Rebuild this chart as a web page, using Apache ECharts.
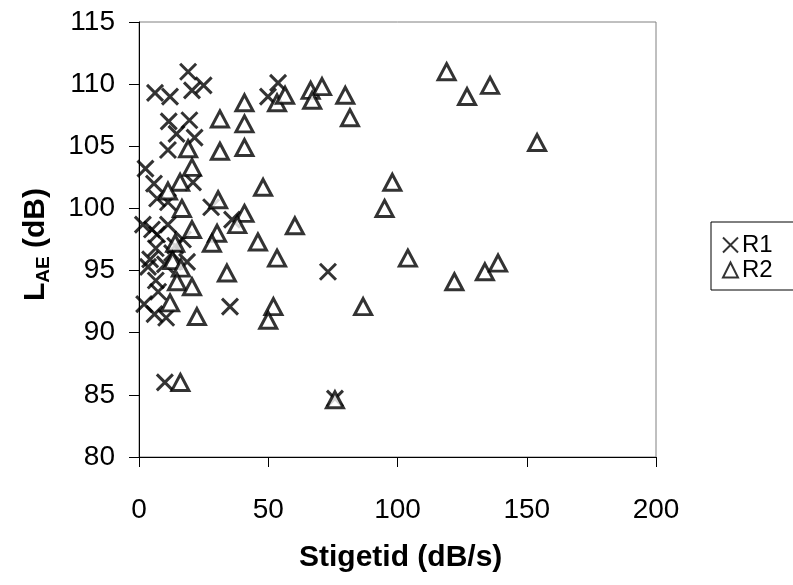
<!DOCTYPE html>
<html>
<head>
<meta charset="utf-8">
<script src="https://cdn.jsdelivr.net/npm/echarts@6/dist/echarts.min.js"></script>
<style>
  html, body { margin: 0; padding: 0; background: #fff; }
  #chart { width: 793px; height: 585px; }
</style>
</head>
<body>
<div id="chart"></div>
<script>
// Rise rate (dB/s) vs. sound exposure level L_AE (dB), two measurement sets
const xTicks = [0, 50, 100, 150, 200];
const yTicks = [80, 85, 90, 95, 100, 105, 110, 115];

const r1 = [
  [19.0, 111.0], [6.2, 109.3], [12.0, 109.0], [20.5, 109.5], [25.0, 109.9],
  [11.5, 107.0], [19.5, 107.1], [14.5, 106.0], [21.5, 105.7], [11.2, 104.7],
  [2.5, 103.2], [20.9, 102.1], [5.8, 102.0], [7.0, 100.8], [11.2, 100.5],
  [27.9, 100.1], [1.5, 98.7], [5.0, 98.3], [11.2, 98.7], [7.0, 97.9],
  [6.5, 96.8], [12.8, 96.4], [4.3, 95.9], [18.6, 95.7], [10.0, 95.5],
  [3.5, 95.3], [6.5, 94.2], [7.4, 93.3], [2.0, 92.3], [6.0, 91.5],
  [10.5, 91.2], [10.0, 86.0], [35.2, 92.1], [73.1, 94.9], [75.8, 84.7],
  [53.8, 110.1], [49.9, 109.0], [36.0, 99.1], [14.0, 97.0], [17.0, 97.5]
];

const r2 = [
  [40.8, 108.5], [31.3, 107.2], [40.8, 106.8], [31.3, 104.6], [40.8, 104.9],
  [19.0, 104.8], [20.5, 103.3], [15.9, 102.1], [11.2, 101.4], [48.0, 101.7],
  [30.6, 100.7], [16.6, 100.0], [40.8, 99.6], [38.0, 98.7], [60.3, 98.6],
  [20.5, 98.3], [30.2, 98.0], [28.2, 97.2], [14.0, 97.2], [46.0, 97.3],
  [53.4, 96.0], [13.0, 95.8], [16.2, 95.2], [14.7, 94.1], [20.5, 93.7],
  [34.0, 94.8], [12.0, 92.4], [22.4, 91.3], [52.0, 92.1], [50.0, 91.0],
  [16.0, 86.0], [53.4, 108.5], [56.5, 109.1], [66.4, 109.5], [70.8, 109.8],
  [67.0, 108.7], [79.8, 109.1], [81.6, 107.3], [98.0, 102.1], [95.0, 100.0],
  [104.0, 96.0], [122.0, 94.1], [133.8, 94.9], [138.9, 95.6], [86.7, 92.1],
  [75.8, 84.6], [119.0, 111.0], [126.9, 109.0], [135.8, 109.9], [154.0, 105.3]
];

const FONT = '"Liberation Sans", Arial, sans-serif';
const crossPath = 'path://M0,0L10,10M10,0L0,10';

const chart = echarts.init(document.getElementById('chart'), null, { renderer: 'canvas' });

chart.setOption({
  animation: false,
  backgroundColor: '#ffffff',
  grid: {
    left: 139, top: 22, width: 517, height: 435,
    show: true, borderColor: '#808080', borderWidth: 1, backgroundColor: 'transparent'
  },
  xAxis: {
    type: 'value',
    min: xTicks[0], max: xTicks[xTicks.length - 1], interval: 50,
    axisLine: { show: true, lineStyle: { color: '#000', width: 1 } },
    axisTick: { show: true, length: 10, inside: false, lineStyle: { color: '#000' } },
    axisLabel: { margin: 39, color: '#000', fontFamily: FONT, fontSize: 28 },
    splitLine: { show: false }
  },
  yAxis: {
    type: 'value',
    min: yTicks[0], max: yTicks[yTicks.length - 1], interval: 5,
    axisLine: { show: true, lineStyle: { color: '#000', width: 1 } },
    axisTick: { show: true, length: 10, inside: false, lineStyle: { color: '#000' } },
    axisLabel: { margin: 24, color: '#000', fontFamily: FONT, fontSize: 28 },
    splitLine: { show: false }
  },
  legend: {
    orient: 'vertical',
    left: 711, top: 222,
    padding: [11, 40, 8, 11],
    itemGap: 1,
    itemWidth: 15, itemHeight: 15,
    borderColor: '#000', borderWidth: 1, borderRadius: 0,
    backgroundColor: '#fff',
    textStyle: { color: '#000', fontFamily: FONT, fontSize: 24, padding: [0, 0, 0, -1] },
    data: ['R1', 'R2']
  },
  graphic: [
    {
      type: 'text',
      left: 299, top: 543,
      style: {
        text: 'Stigetid (dB/s)',
        fill: '#000', font: 'bold 30px ' + FONT
      }
    },
    {
      type: 'text',
      x: 21, y: 301,
      rotation: Math.PI / 2,
      style: {
        text: '{l|L}{s|AE}{l| (dB)}',
        fill: '#000',
        rich: {
          l: { fontFamily: FONT, fontWeight: 'bold', fontSize: 30, fill: '#000', verticalAlign: 'bottom' },
          s: { fontFamily: FONT, fontWeight: 'bold', fontSize: 19, fill: '#000', verticalAlign: 'bottom', padding: [0, 0, -2, 0] }
        }
      }
    }
  ],
  series: [
    {
      name: 'R1', type: 'scatter',
      symbol: crossPath, symbolSize: 16,
      itemStyle: { color: 'rgba(0,0,0,0)', borderColor: '#000', borderWidth: 3 },
      data: r1
    },
    {
      name: 'R2', type: 'scatter',
      symbol: 'triangle', symbolSize: [17, 16],
      itemStyle: { color: '#fff', borderColor: '#000', borderWidth: 3 },
      data: r2
    }
  ]
});
</script>
</body>
</html>
